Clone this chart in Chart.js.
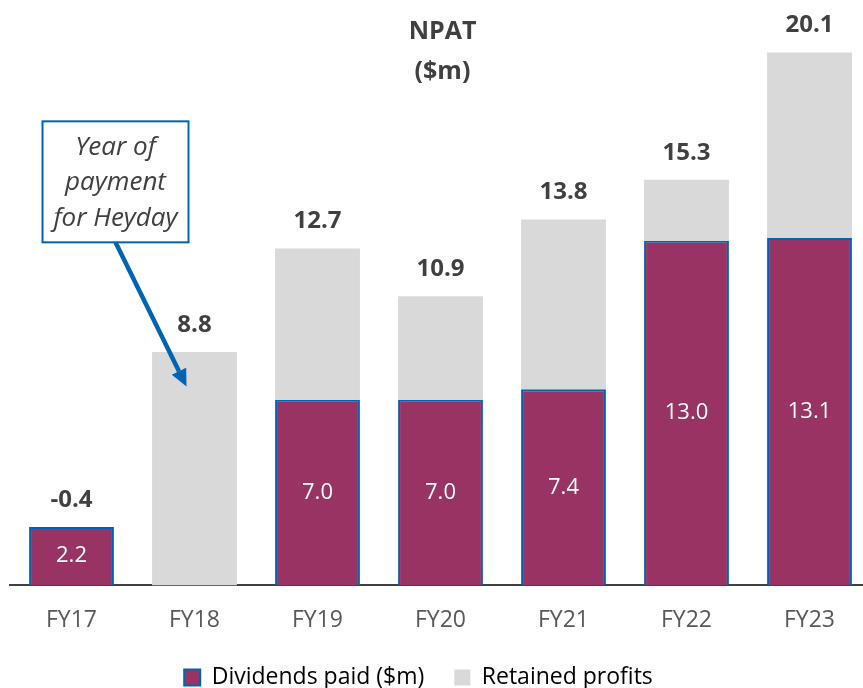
<!DOCTYPE html>
<html>
<head>
<meta charset="utf-8">
<script src="https://cdn.jsdelivr.net/npm/chart.js@4"></script>
<style>
  html, body { margin: 0; padding: 0; background: #fff; overflow: hidden; }
  #wrap { width: 875px; height: 688px; }
</style>
</head>
<body>
<div id="wrap"><canvas id="npatChart" width="875" height="688"></canvas></div>
<script>
const years = ['FY17', 'FY18', 'FY19', 'FY20', 'FY21', 'FY22', 'FY23'];
const dividends = [2.2, 0, 7.0, 7.0, 7.4, 13.0, 13.1];
const retained = [null, 8.8, 5.7, 3.9, 6.4, 2.3, 7.0];
const npat = [-0.4, 8.8, 12.7, 10.9, 13.8, 15.3, 20.1];
const noteLines = ['Year of', 'payment', 'for Heyday'];

const FONT = "'Open Sans', sans-serif";
const PURPLE = '#983363';
const GREY = '#D9D9D9';
const BLUE = '#0064B4';

// labels inside purple bars + NPAT totals on top
const labelPlugin = {
    id: 'labels',
    afterLayout(chart) {
        // legend sits a bit left of the plot centre
        chart.legend.left -= 22;
        chart.legend.right -= 22;
    },
    afterDatasetsDraw(chart) {
        const ctx = chart.ctx;
        const divMeta = chart.getDatasetMeta(0);
        const y = chart.scales.y;
        ctx.save();
        ctx.textAlign = 'center';
        ctx.textBaseline = 'middle';
        divMeta.data.forEach((bar, i) => {
            if (dividends[i] > 0) {
                ctx.fillStyle = '#fff';
                ctx.font = `22px ${FONT}`;
                ctx.fillText(dividends[i].toFixed(1), bar.x, (bar.y + bar.base) / 2);
            }
            const top = y.getPixelForValue(dividends[i] + (retained[i] || 0));
            ctx.fillStyle = '#404040';
            ctx.font = `bold 24px ${FONT}`;
            ctx.fillText(npat[i].toFixed(1), bar.x, top - 27);
        });

        // title
        const cx = (chart.chartArea.left + chart.chartArea.right) / 2;
        ctx.font = `bold 25px ${FONT}`;
        ctx.fillText('NPAT', cx + 2, 32);
        ctx.fillText('($m)', cx + 2, 72);

        // note box with arrow to FY18
        const x18 = chart.scales.x.getPixelForValue(1);
        const bx = x18 - 152, by = y.getPixelForValue(17.5), bw = 146, bh = 121;
        ctx.fillStyle = '#fff';
        ctx.fillRect(bx, by, bw, bh);
        ctx.strokeStyle = BLUE;
        ctx.lineWidth = 2;
        ctx.strokeRect(bx, by, bw, bh);
        ctx.fillStyle = '#404040';
        ctx.font = `italic 26px ${FONT}`;
        noteLines.forEach((t, k) => ctx.fillText(t, bx + bw / 2, by + 26 + k * 35.5));

        const sx = bx + 73, sy = by + bh;
        const tx = x18 - 8, ty = y.getPixelForValue(7.5);
        const ang = Math.atan2(ty - sy, tx - sx);
        const hl = 17, hw = 8;
        const baseX = tx - hl * Math.cos(ang), baseY = ty - hl * Math.sin(ang);
        ctx.strokeStyle = BLUE;
        ctx.lineWidth = 4.5;
        ctx.beginPath();
        ctx.moveTo(sx, sy);
        ctx.lineTo(baseX, baseY);
        ctx.stroke();
        ctx.fillStyle = BLUE;
        ctx.beginPath();
        ctx.moveTo(tx, ty);
        ctx.lineTo(baseX + hw * Math.sin(ang), baseY - hw * Math.cos(ang));
        ctx.lineTo(baseX - hw * Math.sin(ang), baseY + hw * Math.cos(ang));
        ctx.closePath();
        ctx.fill();
        ctx.restore();
    }
};

new Chart(document.getElementById('npatChart'), {
    type: 'bar',
    data: {
        labels: years,
        datasets: [
            {
                label: 'Dividends paid ($m)',
                data: dividends,
                backgroundColor: PURPLE,
                borderColor: BLUE,
                borderWidth: { top: 2, left: 2, right: 2, bottom: 0 },
                borderSkipped: false
            },
            {
                label: 'Retained profits',
                data: retained,
                backgroundColor: GREY,
                borderWidth: 0
            }
        ]
    },
    options: {
        responsive: false,
        animation: false,
        layout: { padding: { left: 10, right: 4, top: 2, bottom: -11 } },
        datasets: { bar: { barPercentage: 0.69, categoryPercentage: 1 } },
        scales: {
            x: {
                stacked: true,
                grid: { display: false, drawTicks: false },
                border: { display: true, color: '#404040', width: 2 },
                ticks: { color: '#595959', font: { family: FONT, size: 23 }, padding: 21 },
                afterFit: scale => { scale.height -= 19; }
            },
            y: {
                stacked: true,
                display: false,
                min: 0,
                max: 22
            }
        },
        plugins: {
            legend: {
                position: 'bottom',
                labels: {
                    color: '#404040',
                    font: { family: FONT, size: 23 },
                    boxWidth: 16,
                    boxHeight: 16,
                    padding: 30,
                    generateLabels: chart => chart.data.datasets.map((ds, i) => ({
                        text: ds.label,
                        fillStyle: ds.backgroundColor,
                        strokeStyle: i === 0 ? BLUE : GREY,
                        lineWidth: i === 0 ? 2 : 0,
                        datasetIndex: i
                    }))
                }
            },
            tooltip: { enabled: false }
        }
    },
    plugins: [labelPlugin]
});
</script>
</body>
</html>
